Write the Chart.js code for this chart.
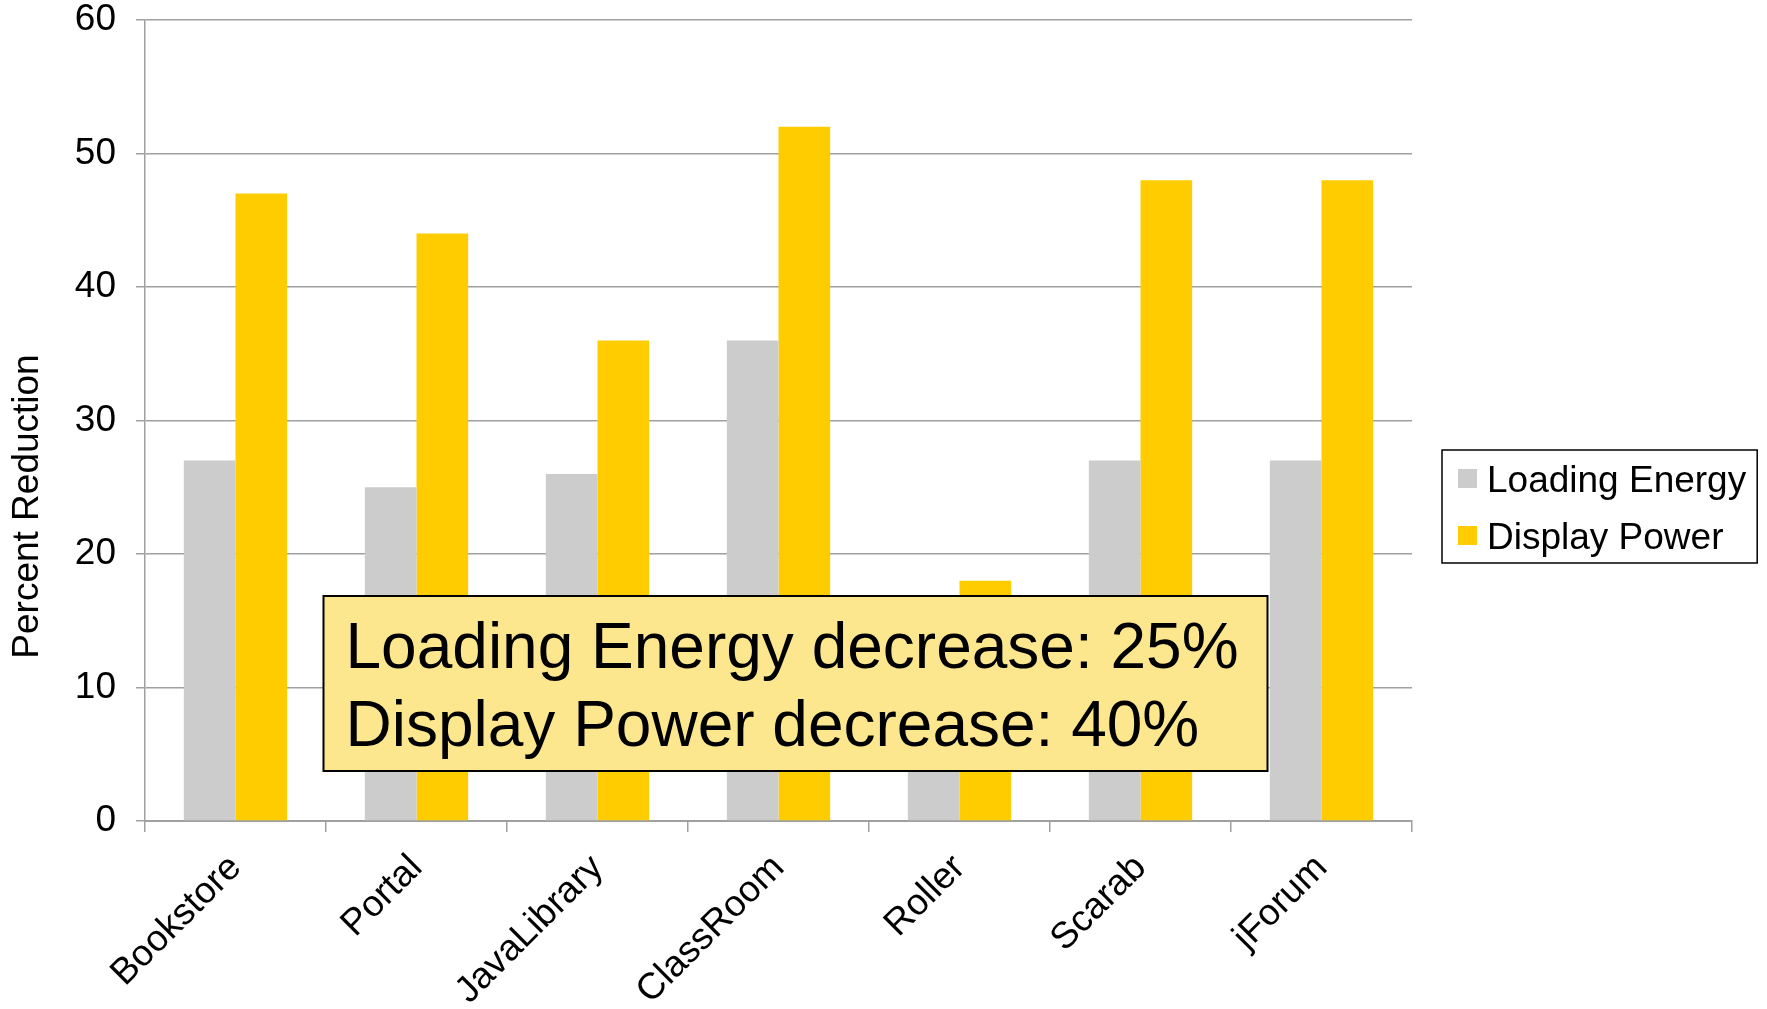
<!DOCTYPE html>
<html>
<head>
<meta charset="utf-8">
<script src="https://cdn.jsdelivr.net/npm/chart.js@4/dist/chart.umd.min.js"></script>
<style>
  html, body { margin: 0; padding: 0; background: #ffffff; }
  canvas { display: block; }
</style>
</head>
<body>
<canvas id="chart" width="1767" height="1009"></canvas>
<script>
// Benchmark applications and per-application percent reductions
const categories = ['Bookstore', 'Portal', 'JavaLibrary', 'ClassRoom', 'Roller', 'Scarab', 'jForum'];
const loadingEnergy = [27, 25, 26, 36, 8, 27, 27];
const displayPower = [47, 44, 36, 52, 18, 48, 48];
const seriesNames = ['Loading Energy', 'Display Power'];
const seriesColors = ['#cccccc', '#ffcc00'];
const summaryLines = ['Loading Energy decrease: 25%', 'Display Power decrease: 40%'];
const yTickValues = [0, 10, 20, 30, 40, 50, 60];
const yAxisTitle = 'Percent Reduction';

const FONT = "'Liberation Sans', Arial, sans-serif";
const GRID = '#a0a0a0';

// Vertical axis title, centred on the canvas height
const axisTitle = {
  id: 'axisTitle',
  afterDraw(chart) {
    const ctx = chart.ctx;
    ctx.save();
    ctx.translate(28, chart.height / 2 + 2);
    ctx.rotate(-Math.PI / 2);
    ctx.font = '37px ' + FONT;
    ctx.fillStyle = '#000000';
    ctx.textAlign = 'center';
    ctx.textBaseline = 'middle';
    ctx.fillText(yAxisTitle, 0, 0);
    ctx.restore();
  }
};

// Legend drawn in a bordered box to the right of the plot
const boxedLegend = {
  id: 'boxedLegend',
  afterDraw(chart) {
    const ctx = chart.ctx;
    const area = chart.chartArea;
    ctx.save();
    ctx.font = '37px ' + FONT;
    const names = chart.data.datasets.map(d => d.label);
    const textW = Math.max(...names.map(n => ctx.measureText(n).width));
    const padL = 16, sq = 19, gap = 10, padR = 11;
    const w = padL + sq + gap + textW + padR;
    const h = 113;
    const x = area.right + 30;
    const y = chart.height / 2 - h / 2 + 2;
    ctx.fillStyle = '#ffffff';
    ctx.fillRect(x, y, w, h);
    ctx.strokeStyle = '#000000';
    ctx.lineWidth = 1.5;
    ctx.strokeRect(x, y, w, h);
    const rowCenters = [y + 28.5, y + 85.5];
    chart.data.datasets.forEach((ds, i) => {
      const cy = rowCenters[i];
      ctx.fillStyle = ds.backgroundColor;
      ctx.fillRect(x + padL, cy - sq / 2, sq, sq);
      ctx.fillStyle = '#000000';
      ctx.textBaseline = 'alphabetic';
      ctx.textAlign = 'left';
      ctx.fillText(ds.label, x + padL + sq + gap, cy + 13);
    });
    ctx.restore();
  }
};

// Summary note laid over the bars
const summaryNote = {
  id: 'summaryNote',
  afterDatasetsDraw(chart) {
    const ctx = chart.ctx;
    ctx.save();
    const x = 323.5, y = 596, w = 944, h = 175;
    ctx.fillStyle = '#fde78e';
    ctx.fillRect(x, y, w, h);
    ctx.strokeStyle = '#000000';
    ctx.lineWidth = 2;
    ctx.strokeRect(x, y, w, h);
    ctx.fillStyle = '#000000';
    ctx.font = '64px ' + FONT;
    ctx.textAlign = 'left';
    ctx.textBaseline = 'alphabetic';
    ctx.fillText(summaryLines[0], x + 22, y + 72);
    ctx.fillText(summaryLines[1], x + 22, y + 150);
    ctx.restore();
  }
};

new Chart(document.getElementById('chart'), {
  type: 'bar',
  data: {
    labels: categories,
    datasets: [
      { label: seriesNames[0], data: loadingEnergy, backgroundColor: seriesColors[0] },
      { label: seriesNames[1], data: displayPower, backgroundColor: seriesColors[1] }
    ]
  },
  options: {
    responsive: false,
    animation: false,
    devicePixelRatio: 1,
    layout: { padding: { top: 0, right: 355, left: 0, bottom: 0 } },
    datasets: { bar: { categoryPercentage: 0.571, barPercentage: 1.0, borderWidth: 0 } },
    plugins: { legend: { display: false }, tooltip: { enabled: false } },
    scales: {
      x: {
        offset: true,
        grid: { offset: true, drawOnChartArea: false, drawTicks: true, tickLength: 11, color: GRID, lineWidth: 1.5 },
        border: { color: GRID, width: 2 },
        ticks: {
          minRotation: 45, maxRotation: 45, padding: 17,
          color: '#000000', font: { family: FONT, size: 37, lineHeight: 1.0 }
        },
        afterFit(scale) { scale.height = 188; }
      },
      y: {
        min: 0, max: 60,
        afterBuildTicks(scale) { scale.ticks = yTickValues.map(v => ({ value: v })); },
        grid: { color: GRID, lineWidth: 1.5, tickLength: 9, drawTicks: true },
        border: { color: GRID, width: 1.5 },
        ticks: { padding: 20, color: '#000000', font: { family: FONT, size: 37, lineHeight: 1.0 } },
        afterFit(scale) {
          scale.width = 145;
          scale.paddingTop = 20;
          scale.paddingBottom = 0;
        }
      }
    }
  },
  plugins: [summaryNote, boxedLegend, axisTitle]
});
</script>
</body>
</html>
